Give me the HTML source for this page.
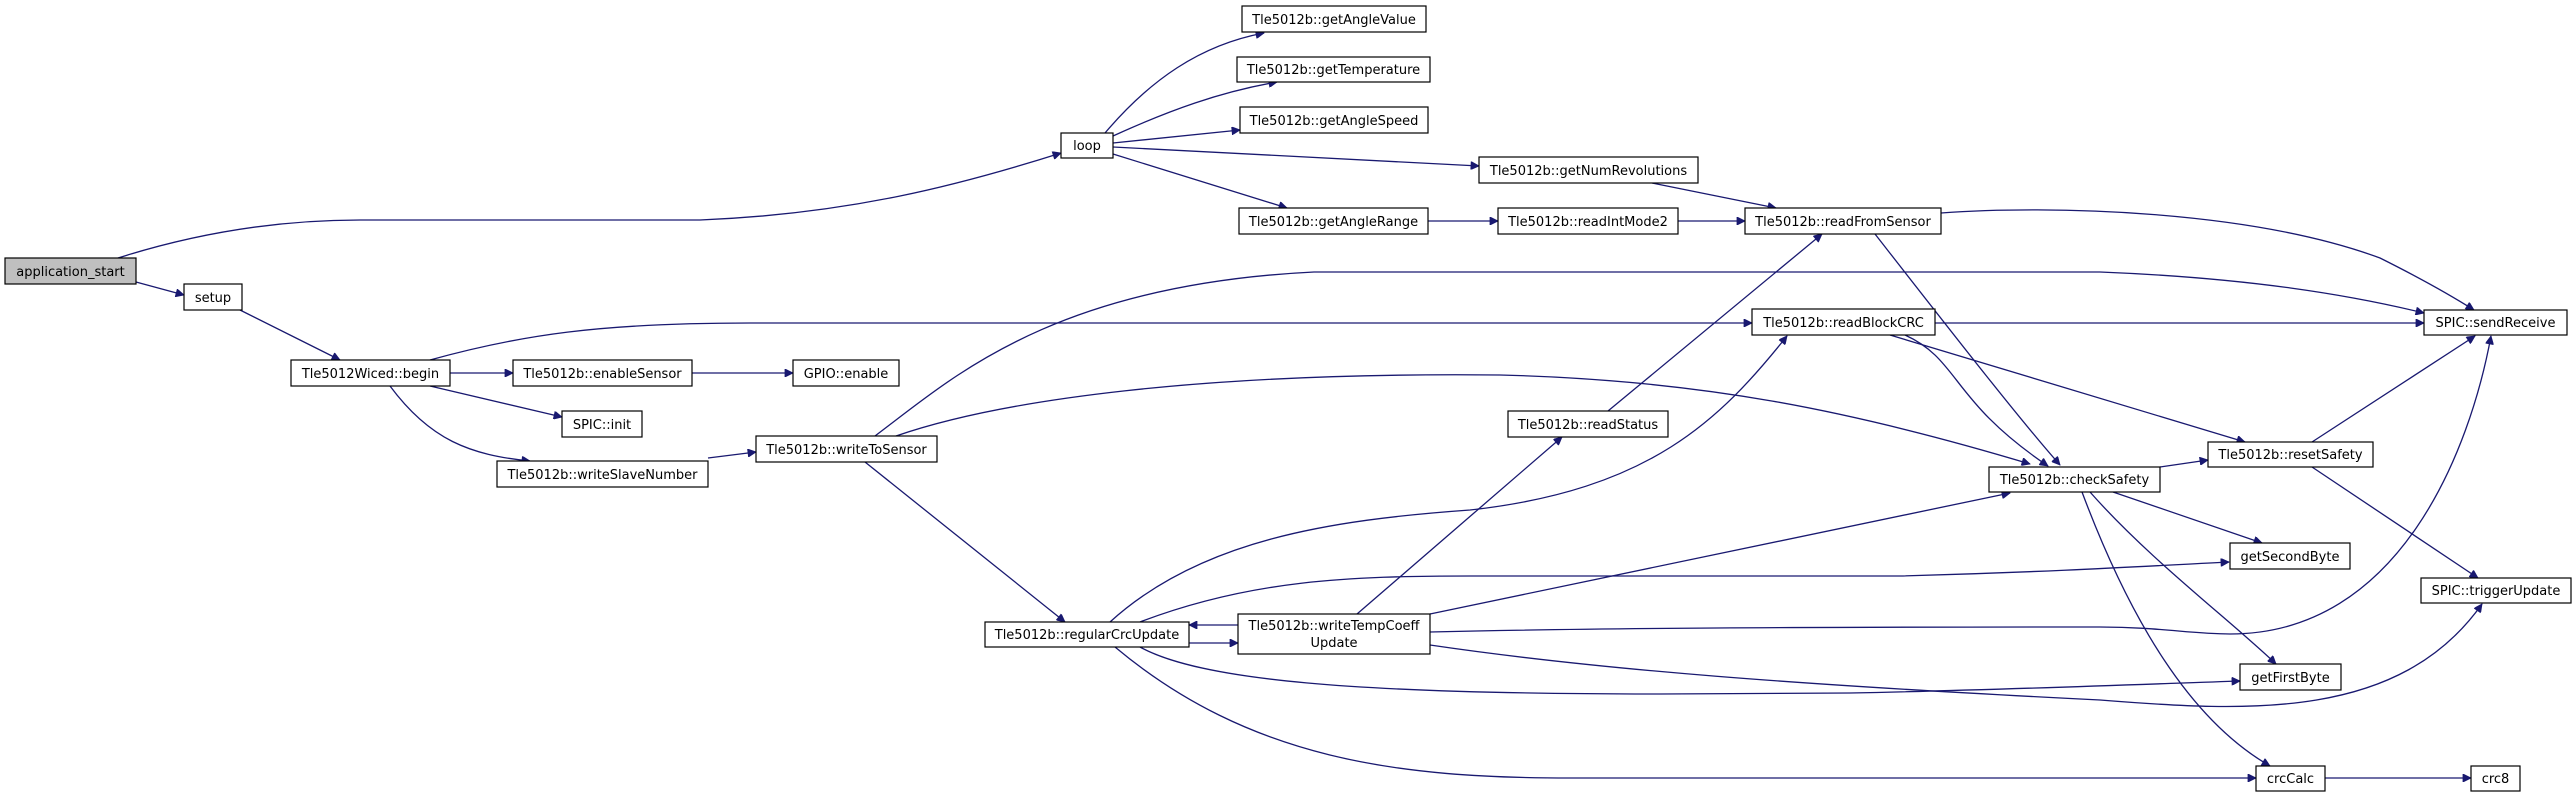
<!DOCTYPE html>
<html><head><meta charset="utf-8"><style>
html,body{margin:0;padding:0;background:#fff;}
svg{display:block;}
text{font-family:"DejaVu Sans","Liberation Sans",sans-serif;font-size:13px;fill:#000;}
.e{fill:none;stroke:#191970;stroke-width:1.3;marker-end:url(#a);}
.n{fill:#fff;stroke:#000;stroke-width:1.2;}
</style></head><body>
<svg width="2576" height="797" viewBox="0 0 2576 797" xmlns="http://www.w3.org/2000/svg">
<defs><marker id="a" viewBox="0 0 10 10" refX="10" refY="5" markerWidth="11" markerHeight="8" markerUnits="userSpaceOnUse" orient="auto"><path d="M0,0 L10,5 L0,10 z" fill="#191970" stroke="#191970"/></marker></defs>

<!-- edges -->
<path class="e" d="M118,258 C200,232 280,220 360,220 L700,220 C850,214 960,185 1061,153"/>
<path class="e" d="M136,282 L184,295"/>
<path class="e" d="M240,310 L340,360"/>
<path class="e" d="M430,360 C520,335 600,323 750,323 L1752,323"/>
<path class="e" d="M1935,323 L2424,323"/>
<path class="e" d="M875,436 C950,380 1050,285 1314,272 L2100,272 C2250,278 2350,295 2424,313"/>
<path class="e" d="M1941,213 C2050,205 2250,210 2380,258 C2420,278 2455,298 2474,310"/>
<path class="e" d="M1105,133 C1150,80 1200,45 1264,33"/>
<path class="e" d="M1113,136 C1170,110 1220,92 1277,82"/>
<path class="e" d="M1113,143 L1240,130"/>
<path class="e" d="M1113,147 L1479,166"/>
<path class="e" d="M1113,154 L1287,208"/>
<path class="e" d="M1652,183 L1776,208"/>
<path class="e" d="M1428,221 L1498,221"/>
<path class="e" d="M1678,221 L1745,221"/>
<path class="e" d="M450,373 L513,373"/>
<path class="e" d="M692,373 L793,373"/>
<path class="e" d="M430,386 L562,417"/>
<path class="e" d="M390,386 C430,440 470,455 530,461"/>
<path class="e" d="M708,458 L756,452"/>
<path class="e" d="M896,436 C1000,400 1200,372 1500,375 C1700,380 1850,410 2030,464"/>
<path class="e" d="M865,462 L1065,622"/>
<path class="e" d="M1875,234 C1950,330 2020,420 2060,465"/>
<path class="e" d="M1905,335 C1960,360 1950,400 2048,466"/>
<path class="e" d="M1890,335 L2245,442"/>
<path class="e" d="M1608,411 L1822,234"/>
<path class="e" d="M1110,622 C1200,540 1330,520 1470,510 C1650,490 1720,420 1787,336"/>
<path class="e" d="M1140,622 C1250,580 1350,576 1470,576 L1900,576 C2050,572 2150,566 2229,562"/>
<path class="e" d="M1189,643 L1238,643"/>
<path class="e" d="M1238,625 L1189,625"/>
<path class="e" d="M1357,614 L1562,437"/>
<path class="e" d="M1430,614 L2010,493"/>
<path class="e" d="M1430,632 C1600,628 1800,627 2100,627 C2160,627 2190,634 2230,634 C2400,634 2470,450 2491,336"/>
<path class="e" d="M1430,645 C1600,670 1800,685 2100,700 C2250,712 2400,720 2482,604"/>
<path class="e" d="M1140,647 C1200,680 1350,694 1660,694 L1850,693 C2000,690 2150,684 2240,681"/>
<path class="e" d="M1115,647 C1250,760 1400,778 1570,778 L2256,778"/>
<path class="e" d="M2160,467 L2208,460"/>
<path class="e" d="M2113,492 L2262,543"/>
<path class="e" d="M2090,492 C2150,560 2230,620 2276,664"/>
<path class="e" d="M2082,492 C2130,620 2190,720 2270,766"/>
<path class="e" d="M2312,442 L2475,336"/>
<path class="e" d="M2312,467 L2478,578"/>
<path class="e" d="M2325,778 L2471,778"/>

<!-- nodes -->
<rect x="5" y="258" width="131" height="26" fill="#bfbfbf" stroke="#000" stroke-width="1.2"/><text x="70.5" y="276" text-anchor="middle">application_start</text>
<rect class="n" x="184" y="284" width="58" height="26"/><text x="213" y="302" text-anchor="middle">setup</text>
<rect class="n" x="1061" y="133" width="52" height="25"/><text x="1087" y="150" text-anchor="middle">loop</text>
<rect class="n" x="1242" y="6" width="184" height="26"/><text x="1334" y="24" text-anchor="middle">Tle5012b::getAngleValue</text>
<rect class="n" x="1237" y="57" width="193" height="25"/><text x="1333.5" y="74" text-anchor="middle">Tle5012b::getTemperature</text>
<rect class="n" x="1240" y="107" width="188" height="26"/><text x="1334" y="125" text-anchor="middle">Tle5012b::getAngleSpeed</text>
<rect class="n" x="1479" y="157" width="219" height="26"/><text x="1588.5" y="175" text-anchor="middle">Tle5012b::getNumRevolutions</text>
<rect class="n" x="1239" y="208" width="189" height="26"/><text x="1333.5" y="226" text-anchor="middle">Tle5012b::getAngleRange</text>
<rect class="n" x="1498" y="208" width="180" height="26"/><text x="1588" y="226" text-anchor="middle">Tle5012b::readIntMode2</text>
<rect class="n" x="1745" y="208" width="196" height="26"/><text x="1843" y="226" text-anchor="middle">Tle5012b::readFromSensor</text>
<rect class="n" x="2424" y="310" width="143" height="25"/><text x="2495.5" y="327" text-anchor="middle">SPIC::sendReceive</text>
<rect class="n" x="291" y="360" width="159" height="26"/><text x="370.5" y="378" text-anchor="middle">Tle5012Wiced::begin</text>
<rect class="n" x="1752" y="309" width="183" height="26"/><text x="1843.5" y="327" text-anchor="middle">Tle5012b::readBlockCRC</text>
<rect class="n" x="513" y="360" width="179" height="26"/><text x="602.5" y="378" text-anchor="middle">Tle5012b::enableSensor</text>
<rect class="n" x="793" y="360" width="106" height="26"/><text x="846" y="378" text-anchor="middle">GPIO::enable</text>
<rect class="n" x="562" y="411" width="80" height="26"/><text x="602" y="429" text-anchor="middle">SPIC::init</text>
<rect class="n" x="497" y="461" width="211" height="26"/><text x="602.5" y="479" text-anchor="middle">Tle5012b::writeSlaveNumber</text>
<rect class="n" x="756" y="436" width="181" height="26"/><text x="846.5" y="454" text-anchor="middle">Tle5012b::writeToSensor</text>
<rect class="n" x="1508" y="411" width="160" height="26"/><text x="1588" y="429" text-anchor="middle">Tle5012b::readStatus</text>
<rect class="n" x="1989" y="467" width="171" height="25"/><text x="2074.5" y="484" text-anchor="middle">Tle5012b::checkSafety</text>
<rect class="n" x="2208" y="442" width="165" height="25"/><text x="2290.5" y="459" text-anchor="middle">Tle5012b::resetSafety</text>
<rect class="n" x="2230" y="543" width="120" height="26"/><text x="2290" y="561" text-anchor="middle">getSecondByte</text>
<rect class="n" x="2421" y="578" width="150" height="25"/><text x="2496" y="595" text-anchor="middle">SPIC::triggerUpdate</text>
<rect class="n" x="985" y="622" width="204" height="25"/><text x="1087" y="639" text-anchor="middle">Tle5012b::regularCrcUpdate</text>
<rect class="n" x="1238" y="614" width="192" height="40"/><text x="1334" y="630" text-anchor="middle">Tle5012b::writeTempCoeff</text><text x="1334" y="647" text-anchor="middle">Update</text>
<rect class="n" x="2240" y="664" width="101" height="26"/><text x="2290.5" y="682" text-anchor="middle">getFirstByte</text>
<rect class="n" x="2256" y="766" width="69" height="25"/><text x="2290.5" y="783" text-anchor="middle">crcCalc</text>
<rect class="n" x="2471" y="766" width="49" height="25"/><text x="2495.5" y="783" text-anchor="middle">crc8</text>
</svg>
</body></html>
